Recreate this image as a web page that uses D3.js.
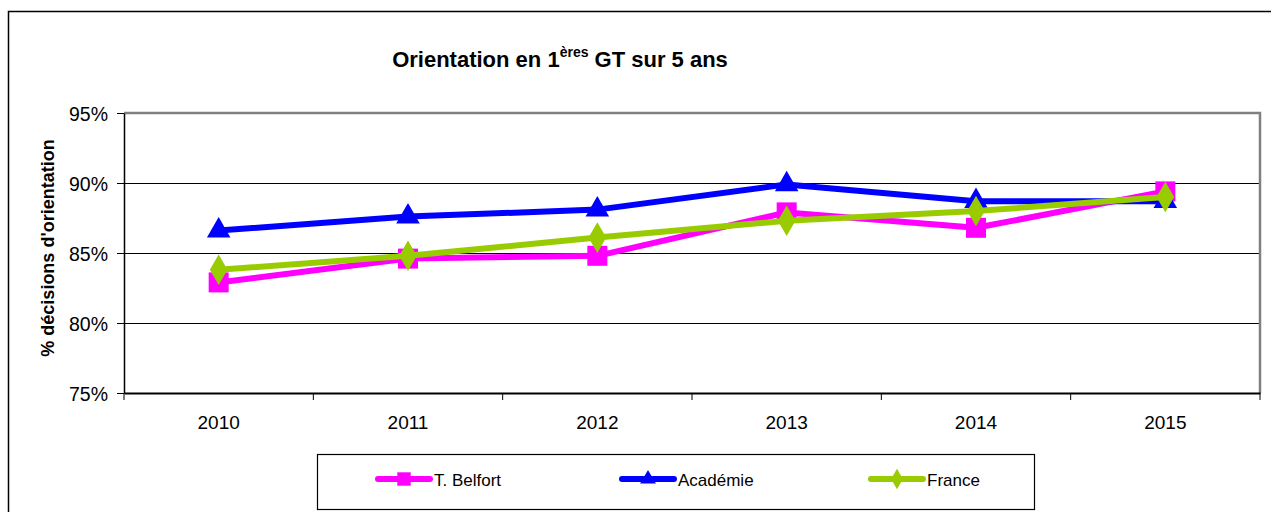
<!DOCTYPE html>
<html><head><meta charset="utf-8">
<script src="https://cdn.jsdelivr.net/npm/d3@7"></script>
<style>body{margin:0;background:#fff}svg{display:block;font-family:"Liberation Sans",Arial,sans-serif}</style>
</head><body>
<svg id="c" width="1271" height="512"></svg>
<script>
const years = ["2010","2011","2012","2013","2014","2015"];
const belfort = [82.9, 84.6, 84.8, 87.9, 86.8, 89.4];
const academie = [86.6, 87.6, 88.1, 89.9, 88.7, 88.7];
const france = [83.8, 84.8, 86.1, 87.3, 88.0, 89.0];
const yTicks = [75, 80, 85, 90, 95];
const seriesNames = ["T. Belfort", "Académie", "France"];

const svg = d3.select("#c");
const L = 124, R = 1260, T = 113, B = 393;
const x = d3.scaleBand().domain(years).range([L, R]);
const y = d3.scaleLinear().domain([75, 95]).range([B, T]);

// outer border
svg.append("path").attr("d","M8.5,520 V11.5 H1280").attr("fill","none").attr("stroke","#000").attr("stroke-width",1.5);

// title
const t = svg.append("text").attr("x",560).attr("y",67).attr("text-anchor","middle")
  .attr("font-weight","bold").attr("font-size",22).attr("fill","#000");
t.append("tspan").text("Orientation en 1");
t.append("tspan").attr("font-size",14).attr("dy",-10).text("ères");
t.append("tspan").attr("dy",10).text(" GT sur 5 ans");

// gridlines
svg.append("g").selectAll("line").data([80,85,90]).join("line")
  .attr("x1",L).attr("x2",R).attr("y1",d=>y(d)+0.5).attr("y2",d=>y(d)+0.5)
  .attr("stroke","#000").attr("stroke-width",1);
// plot border top/right gray
svg.append("path").attr("d",`M${L},${T} H${R} V${B}`).attr("fill","none").attr("stroke","#808080").attr("stroke-width",2.5);

// y axis
const ya = svg.append("g").attr("transform",`translate(${L},0)`)
  .call(d3.axisLeft(y).tickValues(yTicks).tickFormat(d=>d+"%").tickSize(7).tickSizeOuter(0));
ya.select(".domain").attr("stroke","#000").attr("stroke-width",1.5);
ya.selectAll(".tick line").attr("stroke","#000");
ya.selectAll("text").attr("font-size",19.5).attr("font-family","Liberation Sans, Arial").attr("fill","#000").attr("x",-16).attr("dy","0.36em");

// x axis
const xa = svg.append("g").attr("transform",`translate(0,${B})`)
  .call(d3.axisBottom(x).tickSize(0).tickSizeOuter(0));
xa.select(".domain").attr("stroke","#000").attr("stroke-width",2);
xa.selectAll("text").attr("font-size",19).attr("font-family","Liberation Sans, Arial").attr("fill","#000").attr("y",23);
// x tick marks at band edges
const edges = years.map(d=>x(d)).concat([x(years[years.length-1])+x.bandwidth()]);
svg.append("g").selectAll("line").data(edges).join("line")
  .attr("x1",d=>d).attr("x2",d=>d).attr("y1",B).attr("y2",B+7).attr("stroke","#000").attr("stroke-width",1);

// y label
svg.append("text").attr("transform","translate(54,248) rotate(-90)").attr("text-anchor","middle")
  .attr("font-weight","bold").attr("font-size",18).attr("fill","#000").text("% décisions d'orientation");

const cx = d => x(d) + x.bandwidth()/2;
const line = d3.line().x(d=>cx(d.year)).y(d=>y(d.v));
const series = [
  {name:seriesNames[0], vals:belfort, color:"#FF00FF", sym:d3.symbolSquare, size:400},
  {name:seriesNames[1], vals:academie, color:"#0000FF", sym:d3.symbolTriangle, size:240},
  {name:seriesNames[2], vals:france, color:"#99CC00", sym:d3.symbolDiamond, size:270}
];
series.forEach(s=>{
  const pts = years.map((yr,i)=>({year:yr, v:s.vals[i]}));
  svg.append("path").datum(pts).attr("d",line).attr("fill","none").attr("stroke",s.color).attr("stroke-width",6).attr("stroke-linejoin","round");
  svg.append("g").selectAll("path").data(pts).join("path")
    .attr("d",d3.symbol().type(s.sym).size(s.size))
    .attr("transform",d=>`translate(${cx(d.year)},${y(d.v)})`)
    .attr("fill",s.color);
});

// legend
svg.append("rect").attr("x",317.5).attr("y",454.5).attr("width",717).attr("height",55).attr("fill","none").attr("stroke","#000").attr("stroke-width",1.2);
const lx = [375, 619, 868];
const lg = svg.append("g");
series.forEach((s,i)=>{
  lg.append("line").attr("x1",lx[i]+3).attr("x2",lx[i]+55).attr("y1",479).attr("y2",479).attr("stroke",s.color).attr("stroke-width",6).attr("stroke-linecap","round");
  lg.append("path").attr("d",d3.symbol().type(s.sym).size(s.size*0.45)).attr("transform",`translate(${lx[i]+29},479)`).attr("fill",s.color);
  lg.append("text").attr("x",lx[i]+59).attr("y",486).attr("font-size",17).attr("fill","#000").text(s.name);
});
</script>
</body></html>
